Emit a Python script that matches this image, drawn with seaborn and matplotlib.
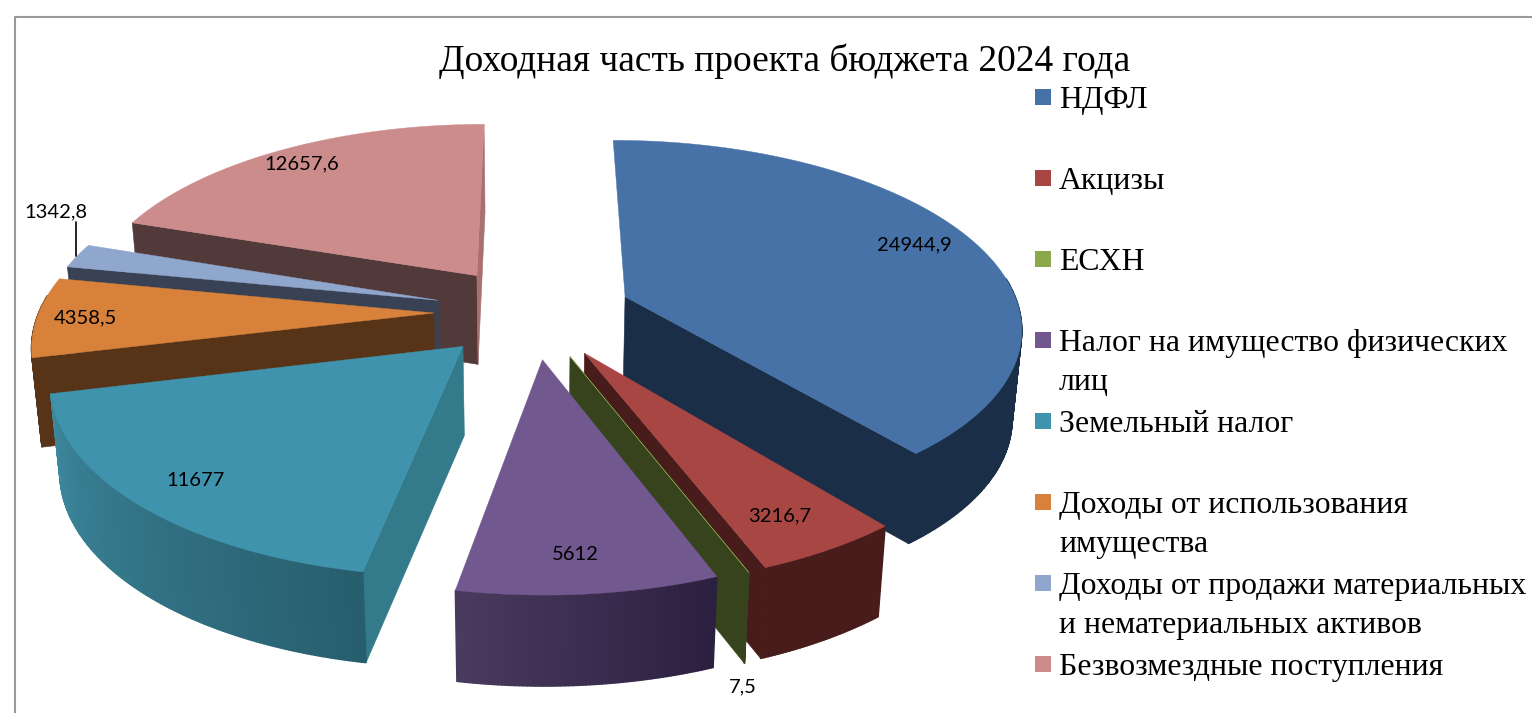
import numpy as np
import matplotlib
matplotlib.use("Agg")
import matplotlib.pyplot as plt
import seaborn as sns

# ---- data
title = "Доходная часть проекта бюджета 2024 года"
categories = ["НДФЛ", "Акцизы", "ЕСХН", "Налог на имущество физических\nлиц", "Земельный налог",
              "Доходы от использования\nимущества", "Доходы от продажи материальных\nи нематериальных активов",
              "Безвозмездные поступления"]
values = [24944.9, 3216.7, 7.5, 5612, 11677, 4358.5, 1342.8, 12657.6]
value_labels = ["24944,9", "3216,7", "7,5", "5612", "11677", "4358,5", "1342,8", "12657,6"]

# ---- style
top_colors = ["#4672a8", "#a84644", "#8aa84c", "#71588f", "#3f93ad", "#d7813b", "#8fa6cd", "#cd8c8c"]
cut_colors = ["#1a2e47", "#471c1a", "#37431d", "#3a2c4c", "#337a8b", "#573417", "#394254", "#533a3a"]
cut_end_colors = ["#1a2e47", "#471c1a", "#37431d", "#3a2c4c", "#337a8b", "#573417", "#394254", "#a87070"]
wall_start = ["#1a2e47", "#471c1a", "#37431d", "#2b2040", "#275e6e", "#573417", "#394254", "#533a3a"]
wall_end = ["#1a2e47", "#471c1a", "#37431d", "#4a3a5e", "#3d889e", "#573417", "#394254", "#533a3a"]
draw_order = [7, 6, 5, 0, 4, 1, 2, 3]
hide_start_cut = [0]
label_xy = [(914, 245), (780, 516), (743, 687), (575, 554), (195, 480), (85, 318), (56, 212), (302, 164)]

CX, CY = 533, 312
RADIUS, EXPLODE, TILT, PERSP = 395, 99, 0.466, 0.15
DEPTH, BOTTOM_SCALE = 89, 0.98

sns.set_theme(style="white")
plt.rcParams["font.family"] = ["Liberation Serif", "DejaVu Serif"]

fig = plt.figure(figsize=(15.32, 7.13), dpi=100)
ax = fig.add_axes([0, 0, 1, 1])
ax.set_xlim(0, 1532)
ax.set_ylim(713, 0)
ax.axis("off")


def project(X, Y, bottom=False):
    s = 1 / (1 + PERSP * Y / RADIUS)
    x = X * s
    y = -Y * TILT * s
    if bottom:
        x = x * BOTTOM_SCALE
        y = y + DEPTH * (1 + (s - 1) * 0.1)
    return CX + x, CY + y


def rgb(c):
    return np.array(matplotlib.colors.to_rgb(c))


edges = 360 * np.cumsum([0] + values) / np.sum(values)


def face_visible(p, q, m):
    d = q - p
    side_m = d[0] * (m[1] - p[1]) - d[1] * (m[0] - p[0])
    side_down = d[0]
    return side_m * side_down < 0


for i in draw_order:
    a0, a1 = np.radians(edges[i]), np.radians(edges[i + 1])
    mid = (a0 + a1) / 2
    ox, oy = EXPLODE * np.sin(mid), EXPLODE * np.cos(mid)
    th = np.linspace(a0, a1, max(int(np.degrees(a1 - a0) * 2), 2) + 1)
    ax_X, ax_Y = ox + RADIUS * np.sin(th), oy + RADIUS * np.cos(th)

    tx, ty = project(ox, oy)
    bx, by = project(ox, oy, True)
    ox_t, oy_t = project(ax_X, ax_Y)
    ox_b, oy_b = project(ax_X, ax_Y, True)
    m = np.array([(tx * 2 + ox_t[len(th) // 2]) / 3, (ty * 2 + oy_t[len(th) // 2]) / 3])
    p = np.array([tx, ty])

    # straight cut faces
    for k, col in ((0, cut_colors[i]), (-1, cut_end_colors[i])):
        if k == 0 and i in hide_start_cut:
            continue
        q = np.array([ox_t[k], oy_t[k]])
        if face_visible(p, q, m):
            ax.fill([tx, ox_t[k], ox_b[k], bx], [ty, oy_t[k], oy_b[k], by], color=col, lw=0.4, zorder=2)

    # outer wall, shaded segment by segment; only the part turned to the viewer
    for j in range(len(th) - 1):
        if np.cos((th[j] + th[j + 1]) / 2) > 0.1:
            continue
        f = j / max(len(th) - 2, 1)
        col = rgb(wall_start[i]) * (1 - f) + rgb(wall_end[i]) * f
        ax.fill([ox_t[j], ox_t[j + 1], ox_b[j + 1], ox_b[j]],
                [oy_t[j], oy_t[j + 1], oy_b[j + 1], oy_b[j]], color=col, lw=1.0, zorder=2)

    # top face
    ax.fill(np.r_[tx, ox_t], np.r_[ty, oy_t], color=top_colors[i], lw=0.3, zorder=2)

# value labels
for (lx, ly), s in zip(label_xy, value_labels):
    ax.text(lx, ly, s, ha="center", va="center", fontsize=14.5, color="black", family="Lato", zorder=5)
ax.plot([76, 76], [222, 256], color="black", lw=1.2, zorder=5)

# title and legend
ax.text(785, 61, title, ha="center", va="center", fontsize=27, color="black", zorder=5)
for i, cat in enumerate(categories):
    ys = 97 + 81 * i
    ax.scatter([1043], [ys], marker="s", s=138, color=top_colors[i], linewidths=0, zorder=5)
    for n, line in enumerate(cat.split("\n")):
        ax.text(1059, ys + 11 + 39 * n, line, ha="left", va="baseline", fontsize=22.9, color="black", zorder=5)

# chart frame
ax.plot([14.5, 14.5, 1532], [713, 16.5, 16.5], color="#9a9a9a", lw=1.5, zorder=1)

fig.savefig("out.png", dpi=100, facecolor="white")
